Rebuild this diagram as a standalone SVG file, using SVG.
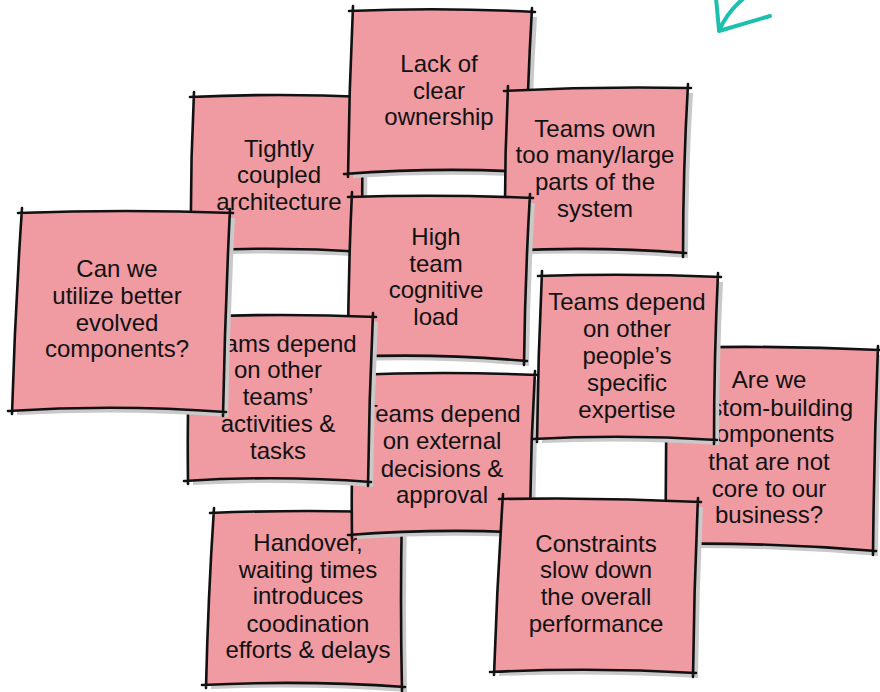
<svg xmlns="http://www.w3.org/2000/svg" xmlns:xlink="http://www.w3.org/1999/xlink" width="880" height="692" viewBox="0 0 880 692">
<style>
.sh{fill:#c9c9c9}
.nf{fill:#f09aa2}
.st{fill:none;stroke:#111;stroke-width:2.6;stroke-linecap:round;stroke-linejoin:round}
.tx{font-family:"Liberation Sans",Arial,sans-serif;font-size:24px;fill:#111;text-anchor:middle}
.ar{fill:none;stroke:#1dbfae;stroke-width:4;stroke-linecap:round;stroke-linejoin:round}
</style>
<defs>
<path id="p-tc" d="M194,96 Q279,93 364,97 Q361,175 363,252 Q277,246 191,250 Q190,173 194,96 Z"/>
<path id="p-lc" d="M353,10 Q442,7 532,12 Q527,92 526,172 Q437,167 348,173 Q349,91 353,10 Z"/>
<path id="p-to" d="M508,90 Q598,86 688,88 Q683,170 683,253 Q594,246 505,250 Q504,170 508,90 Z"/>
<path id="p-ht" d="M352,196 Q441,194 530,198 Q525,279 524,361 Q436,353 348,356 Q348,276 352,196 Z"/>
<path id="p-ho" d="M214,512 Q308,509 402,513 Q400,600 402,687 Q304,680 206,684 Q208,598 214,512 Z"/>
<path id="p-te" d="M354,374 Q444,371 535,375 Q530,454 530,533 Q441,528 352,534 Q351,454 354,374 Z"/>
<path id="p-ta" d="M190,316 Q281,313 373,317 Q369,399 368,482 Q278,475 188,480 Q187,398 190,316 Z"/>
<path id="p-cw" d="M22,212 Q126,209 230,213 Q225,312 223,412 Q117,404 12,410 Q15,311 22,212 Z"/>
<path id="p-aw" d="M668,347 Q773,345 878,350 Q874,450 873,551 Q769,542 666,543 Q665,445 668,347 Z"/>
<path id="p-ex" d="M542,275 Q630,273 718,277 Q714,358 714,440 Q625,434 537,438 Q538,356 542,275 Z"/>
<path id="p-co" d="M503,498 Q600,497 698,502 Q694,587 693,673 Q593,667 494,671 Q497,584 503,498 Z"/>
</defs>
<g id="connectors">
<path class="ar" d="M716,-2 L719,30 M744,-2 Q727,12 719,31 L770,16"/>
</g>
<g id="node-tightly-coupled">
<use xlink:href="#p-tc" class="sh" transform="translate(5,5)"/>
<use xlink:href="#p-tc" class="nf"/>
<path class="st" d="M190,97 Q279,93 367,97 M364,93 Q361,175 363,256 M186,251 Q277,246 366,252 M194,92 Q190,173 191,254"/>
<text class="tx" x="279" y="157">Tightly</text>
<text class="tx" x="279" y="183">coupled</text>
<text class="tx" x="279" y="210">architecture</text>
</g>
<g id="node-lack-ownership">
<use xlink:href="#p-lc" class="sh" transform="translate(5,5)"/>
<use xlink:href="#p-lc" class="nf"/>
<path class="st" d="M349,11 Q442,7 535,12 M532,8 Q527,92 526,176 M344,174 Q437,167 529,172 M353,6 Q349,91 348,177"/>
<text class="tx" x="439" y="72">Lack of</text>
<text class="tx" x="439" y="99">clear</text>
<text class="tx" x="439" y="125">ownership</text>
</g>
<g id="node-teams-own">
<use xlink:href="#p-to" class="sh" transform="translate(5,5)"/>
<use xlink:href="#p-to" class="nf"/>
<path class="st" d="M504,91 Q598,86 691,88 M688,84 Q683,170 683,257 M501,251 Q594,246 686,253 M508,86 Q504,170 505,254"/>
<text class="tx" x="595" y="137">Teams own</text>
<text class="tx" x="595" y="163">too many/large</text>
<text class="tx" x="595" y="190">parts of the</text>
<text class="tx" x="595" y="217">system</text>
</g>
<g id="node-high-load">
<use xlink:href="#p-ht" class="sh" transform="translate(5,5)"/>
<use xlink:href="#p-ht" class="nf"/>
<path class="st" d="M348,197 Q441,194 533,198 M530,194 Q525,279 524,365 M344,357 Q436,353 527,361 M352,192 Q348,276 348,360"/>
<text class="tx" x="436" y="245">High</text>
<text class="tx" x="436" y="272">team</text>
<text class="tx" x="436" y="298">cognitive</text>
<text class="tx" x="436" y="325">load</text>
</g>
<g id="node-handover">
<use xlink:href="#p-ho" class="sh" transform="translate(5,5)"/>
<use xlink:href="#p-ho" class="nf"/>
<path class="st" d="M210,513 Q308,509 405,513 M402,509 Q400,600 402,691 M202,685 Q304,680 405,687 M214,508 Q208,598 206,688"/>
<text class="tx" x="308" y="551">Handover,</text>
<text class="tx" x="308" y="578">waiting times</text>
<text class="tx" x="308" y="604">introduces</text>
<text class="tx" x="308" y="632">coodination</text>
<text class="tx" x="308" y="658">efforts &amp; delays</text>
</g>
<g id="node-external">
<use xlink:href="#p-te" class="sh" transform="translate(5,5)"/>
<use xlink:href="#p-te" class="nf"/>
<path class="st" d="M350,375 Q444,371 538,375 M535,371 Q530,454 530,537 M348,535 Q441,528 533,533 M354,370 Q351,454 352,538"/>
<text class="tx" x="442" y="422">Teams depend</text>
<text class="tx" x="442" y="449">on external</text>
<text class="tx" x="442" y="477">decisions &amp;</text>
<text class="tx" x="442" y="503">approval</text>
</g>
<g id="node-activities">
<use xlink:href="#p-ta" class="sh" transform="translate(5,5)"/>
<use xlink:href="#p-ta" class="nf"/>
<path class="st" d="M186,317 Q281,313 376,317 M373,313 Q369,399 368,486 M184,481 Q278,475 371,482 M190,312 Q187,398 188,484"/>
<text class="tx" x="278" y="352">Teams depend</text>
<text class="tx" x="278" y="378">on other</text>
<text class="tx" x="278" y="405">teams’</text>
<text class="tx" x="278" y="432">activities &amp;</text>
<text class="tx" x="278" y="459">tasks</text>
</g>
<g id="node-can-we">
<use xlink:href="#p-cw" class="sh" transform="translate(5,5)"/>
<use xlink:href="#p-cw" class="nf"/>
<path class="st" d="M18,213 Q126,209 233,213 M230,209 Q225,312 223,416 M8,411 Q117,404 226,412 M22,208 Q15,311 12,414"/>
<text class="tx" x="117" y="277">Can we</text>
<text class="tx" x="117" y="304">utilize better</text>
<text class="tx" x="117" y="331">evolved</text>
<text class="tx" x="117" y="357">components?</text>
</g>
<g id="node-are-we">
<use xlink:href="#p-aw" class="sh" transform="translate(5,5)"/>
<use xlink:href="#p-aw" class="nf"/>
<path class="st" d="M664,348 Q773,345 881,350 M878,346 Q874,450 873,555 M662,544 Q769,542 876,551 M668,343 Q665,445 666,547"/>
<text class="tx" x="769" y="388">Are we</text>
<text class="tx" x="769" y="416">custom-building</text>
<text class="tx" x="769" y="442">components</text>
<text class="tx" x="769" y="470">that are not</text>
<text class="tx" x="769" y="497">core to our</text>
<text class="tx" x="769" y="523">business?</text>
</g>
<g id="node-expertise">
<use xlink:href="#p-ex" class="sh" transform="translate(5,5)"/>
<use xlink:href="#p-ex" class="nf"/>
<path class="st" d="M538,276 Q630,273 721,277 M718,273 Q714,358 714,444 M533,439 Q625,434 717,440 M542,271 Q538,356 537,442"/>
<text class="tx" x="627" y="310">Teams depend</text>
<text class="tx" x="627" y="337">on other</text>
<text class="tx" x="627" y="364">people’s</text>
<text class="tx" x="627" y="391">specific</text>
<text class="tx" x="627" y="418">expertise</text>
</g>
<g id="node-constraints">
<use xlink:href="#p-co" class="sh" transform="translate(5,5)"/>
<use xlink:href="#p-co" class="nf"/>
<path class="st" d="M499,499 Q600,497 701,502 M698,498 Q694,587 693,677 M490,672 Q593,667 696,673 M503,494 Q497,584 494,675"/>
<text class="tx" x="596" y="552">Constraints</text>
<text class="tx" x="596" y="578">slow down</text>
<text class="tx" x="596" y="605">the overall</text>
<text class="tx" x="596" y="632">performance</text>
</g>
</svg>
